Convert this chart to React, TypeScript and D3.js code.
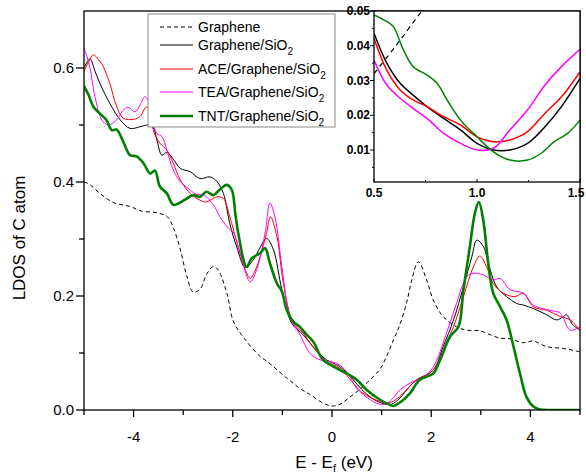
import React from "react";
import * as d3 from "d3";

type Pt = [number, number];

// LDOS of a C atom versus E - Ef (eV)
const graphene: Pt[] = [
  [-5, 0.4], [-4.89, 0.396], [-4.68, 0.38], [-4.41, 0.364], [-4.07, 0.357], [-3.84, 0.349],
  [-3.53, 0.346], [-3.32, 0.339], [-3.2, 0.32], [-3.06, 0.282], [-2.93, 0.236], [-2.8, 0.207],
  [-2.66, 0.212], [-2.53, 0.238], [-2.39, 0.252], [-2.29, 0.245], [-2.12, 0.205], [-1.99, 0.156],
  [-1.79, 0.128], [-1.45, 0.094], [-1.32, 0.086], [-0.91, 0.056], [-0.65, 0.038], [-0.44, 0.027],
  [-0.2, 0.013], [0, 0.007], [0.16, 0.01], [0.35, 0.022], [0.56, 0.036], [0.72, 0.049],
  [0.97, 0.072], [1.1, 0.094], [1.25, 0.125], [1.37, 0.15], [1.51, 0.19], [1.6, 0.225],
  [1.74, 0.26], [1.91, 0.228], [2.04, 0.193], [2.24, 0.164], [2.51, 0.146], [2.72, 0.14],
  [2.98, 0.139], [3.19, 0.132], [3.39, 0.126], [3.59, 0.125], [3.86, 0.118], [4.06, 0.121],
  [4.33, 0.111], [4.66, 0.108], [5, 0.102],
];

const grapheneSiO2: Pt[] = [
  [-5, 0.6], [-4.88, 0.616], [-4.78, 0.595], [-4.68, 0.573], [-4.48, 0.538], [-4.27, 0.509],
  [-4.07, 0.494], [-3.87, 0.497], [-3.7, 0.5], [-3.6, 0.495], [-3.53, 0.474], [-3.43, 0.447],
  [-3.33, 0.452], [-3.2, 0.44], [-3.06, 0.424], [-2.86, 0.418], [-2.66, 0.406], [-2.46, 0.409],
  [-2.32, 0.401], [-2.19, 0.38], [-2.06, 0.327], [-1.92, 0.286], [-1.75, 0.25], [-1.59, 0.263],
  [-1.45, 0.285], [-1.32, 0.301], [-1.18, 0.281], [-1.01, 0.211], [-0.81, 0.152], [-0.58, 0.132],
  [-0.38, 0.111], [-0.11, 0.088], [0.16, 0.076], [0.43, 0.053], [0.6, 0.036], [0.8, 0.021],
  [1.0, 0.012], [1.1, 0.01], [1.2, 0.01], [1.37, 0.021], [1.55, 0.04], [1.71, 0.053],
  [2.04, 0.07], [2.24, 0.111], [2.45, 0.158], [2.65, 0.216], [2.82, 0.269], [2.92, 0.298],
  [3.05, 0.287], [3.19, 0.246], [3.32, 0.216], [3.52, 0.199], [3.72, 0.187], [3.86, 0.184],
  [4.06, 0.178], [4.33, 0.167], [4.53, 0.158], [4.65, 0.163], [4.73, 0.167], [4.85, 0.15],
  [5, 0.14],
];

const aceGrapheneSiO2: Pt[] = [
  [-5, 0.594], [-4.9, 0.612], [-4.81, 0.623], [-4.71, 0.615], [-4.61, 0.602], [-4.48, 0.573],
  [-4.34, 0.532], [-4.21, 0.512], [-4.0, 0.51], [-3.87, 0.515], [-3.74, 0.532], [-3.68, 0.528],
  [-3.6, 0.49], [-3.47, 0.468], [-3.33, 0.456], [-3.2, 0.433], [-3.06, 0.404], [-2.86, 0.38],
  [-2.66, 0.368], [-2.53, 0.365], [-2.32, 0.374], [-2.19, 0.371], [-2.06, 0.339], [-1.92, 0.295],
  [-1.72, 0.24], [-1.65, 0.231], [-1.52, 0.251], [-1.32, 0.31], [-1.24, 0.339], [-1.11, 0.304],
  [-0.98, 0.222], [-0.78, 0.152], [-0.58, 0.135], [-0.44, 0.117], [-0.11, 0.085], [0.16, 0.073],
  [0.43, 0.047], [0.6, 0.031], [0.8, 0.021], [1.0, 0.014], [1.1, 0.012], [1.2, 0.014],
  [1.37, 0.024], [1.71, 0.053], [2.04, 0.07], [2.24, 0.105], [2.45, 0.146], [2.65, 0.199],
  [2.85, 0.251], [2.98, 0.27], [3.12, 0.251], [3.25, 0.222], [3.45, 0.205], [3.69, 0.199],
  [3.86, 0.205], [4.06, 0.181], [4.33, 0.175], [4.6, 0.164], [4.8, 0.158], [5, 0.14],
];

const teaGrapheneSiO2: Pt[] = [
  [-5, 0.634], [-4.94, 0.62], [-4.88, 0.6], [-4.78, 0.55], [-4.64, 0.509], [-4.51, 0.5],
  [-4.34, 0.509], [-4.21, 0.526], [-4.11, 0.531], [-3.97, 0.523], [-3.87, 0.535], [-3.77, 0.55],
  [-3.68, 0.535], [-3.6, 0.5], [-3.53, 0.485], [-3.43, 0.48], [-3.33, 0.456], [-3.2, 0.421],
  [-3.06, 0.401], [-2.86, 0.386], [-2.73, 0.378], [-2.6, 0.378], [-2.39, 0.36], [-2.26, 0.339],
  [-2.09, 0.319], [-1.99, 0.312], [-1.85, 0.275], [-1.65, 0.225], [-1.52, 0.246], [-1.35, 0.31],
  [-1.25, 0.363], [-1.15, 0.339], [-1.01, 0.251], [-0.85, 0.164], [-0.65, 0.133], [-0.44, 0.099],
  [-0.24, 0.088], [0.09, 0.082], [0.3, 0.067], [0.5, 0.038], [0.77, 0.018], [0.9, 0.012],
  [1.0, 0.01], [1.1, 0.011], [1.2, 0.018], [1.37, 0.035], [1.57, 0.047], [1.84, 0.058],
  [2.04, 0.075], [2.31, 0.135], [2.51, 0.187], [2.72, 0.234], [2.85, 0.24], [3.05, 0.237],
  [3.25, 0.228], [3.39, 0.231], [3.59, 0.211], [3.86, 0.205], [4.06, 0.184], [4.39, 0.175],
  [4.6, 0.17], [4.8, 0.14], [5, 0.146],
];

const tntGrapheneSiO2: Pt[] = [
  [-5, 0.568], [-4.91, 0.553], [-4.81, 0.532], [-4.68, 0.52], [-4.55, 0.509], [-4.44, 0.491],
  [-4.34, 0.492], [-4.21, 0.471], [-4.07, 0.447], [-3.94, 0.445], [-3.8, 0.433], [-3.67, 0.415],
  [-3.57, 0.42], [-3.47, 0.392], [-3.33, 0.38], [-3.2, 0.36], [-3.06, 0.364], [-2.93, 0.371],
  [-2.8, 0.377], [-2.66, 0.374], [-2.53, 0.383], [-2.39, 0.377], [-2.26, 0.387], [-2.12, 0.395],
  [-2.02, 0.386], [-1.95, 0.345], [-1.89, 0.31], [-1.72, 0.251], [-1.62, 0.266], [-1.45, 0.275],
  [-1.35, 0.284], [-1.25, 0.257], [-1.11, 0.222], [-1.01, 0.208], [-0.91, 0.175], [-0.78, 0.155],
  [-0.65, 0.146], [-0.51, 0.132], [-0.38, 0.12], [-0.18, 0.088], [0.03, 0.076], [0.3, 0.064],
  [0.5, 0.053], [0.7, 0.035], [0.97, 0.018], [1.17, 0.009], [1.24, 0.007], [1.4, 0.015],
  [1.57, 0.029], [1.77, 0.053], [2.04, 0.064], [2.18, 0.088], [2.38, 0.129], [2.55, 0.146],
  [2.65, 0.211], [2.78, 0.287], [2.88, 0.345], [2.96, 0.365], [3.05, 0.333], [3.15, 0.257],
  [3.25, 0.205], [3.39, 0.181], [3.52, 0.158], [3.66, 0.111], [3.79, 0.064], [3.92, 0.023],
  [4.06, 0.006], [4.19, 0.001], [4.4, 0], [5, 0],
];

// Close-up near the minimum, 0.5 to 1.5 eV
const insetGraphene: Pt[] = [[0.5, 0.032], [0.6, 0.0395], [0.72, 0.049], [0.75, 0.051]];
const insetGrapheneSiO2: Pt[] = [
  [0.5, 0.0436], [0.562, 0.035], [0.627, 0.0292], [0.69, 0.0258], [0.757, 0.0225], [0.838, 0.0191],
  [0.92, 0.0158], [1.0, 0.0119], [1.08, 0.01], [1.16, 0.01], [1.245, 0.0119], [1.33, 0.0167],
  [1.41, 0.0225], [1.5, 0.0306],
];
const insetAce: Pt[] = [
  [0.5, 0.0421], [0.562, 0.033], [0.627, 0.0273], [0.69, 0.0244], [0.757, 0.0225], [0.838, 0.0196],
  [0.92, 0.0172], [1.0, 0.0138], [1.08, 0.0124], [1.16, 0.0129], [1.245, 0.0153], [1.33, 0.0206],
  [1.41, 0.0253], [1.5, 0.0325],
];
const insetTea: Pt[] = [
  [0.5, 0.0359], [0.562, 0.0287], [0.627, 0.0249], [0.69, 0.022], [0.757, 0.0191], [0.838, 0.0148],
  [0.92, 0.0119], [1.0, 0.01], [1.08, 0.0105], [1.16, 0.0158], [1.245, 0.0215], [1.33, 0.0287],
  [1.41, 0.034], [1.5, 0.039],
];
const insetTnt: Pt[] = [
  [0.5, 0.0489], [0.562, 0.047], [0.594, 0.0455], [0.643, 0.0388], [0.69, 0.034], [0.757, 0.0316],
  [0.806, 0.0292], [0.855, 0.0244], [0.92, 0.0186], [1.0, 0.0138], [1.08, 0.0095], [1.16, 0.0071],
  [1.245, 0.0071], [1.31, 0.009], [1.375, 0.0124], [1.44, 0.0148], [1.5, 0.0186],
];

const xTicks = [-4, -2, 0, 2, 4];
const xMinorTicks = [-5, -3, -1, 1, 3, 5];
const yTicks = [0, 0.2, 0.4, 0.6];
const yMinorTicks = [0.1, 0.3, 0.5];
const insetXTicks = [0.5, 1.0, 1.5];
const insetXMinor = [0.75, 1.25];
const insetYTicks = [0.01, 0.02, 0.03, 0.04, 0.05];
const insetYMinor = [0.005, 0.015, 0.025, 0.035, 0.045];

const seriesNames = ["Graphene", "Graphene/SiO", "ACE/Graphene/SiO", "TEA/Graphene/SiO", "TNT/Graphene/SiO"];
const seriesSub = ["", "2", "2", "2", "2"];
const seriesColors = ["#000000", "#000000", "#ff0000", "#ff00ff", "#008000"];
const seriesWidths = [1, 1, 1, 1, 2.6];
const seriesDash = ["4,3", "", "", "", ""];
const mainData = [graphene, grapheneSiO2, aceGrapheneSiO2, teaGrapheneSiO2, tntGrapheneSiO2];
const insetData = [insetGraphene, insetGrapheneSiO2, insetAce, insetTea, insetTnt];

const FONT = "'Liberation Sans', Arial, sans-serif";

export default function App() {
  const W = 586, H = 475;
  const left = 84, right = 580, top = 11, bottom = 410;
  const x = d3.scaleLinear().domain([-5, 5]).range([left, right]);
  const y = d3.scaleLinear().domain([0, 0.7]).range([bottom, top]);

  const iL = 374, iR = 580, iT = 11, iB = 182;
  const xi = d3.scaleLinear().domain([0.5, 1.5]).range([iL, iR]);
  const yi = d3.scaleLinear().domain([0.0008, 0.05]).range([iB, iT]);

  const line = d3.line<Pt>().x(d => x(d[0])).y(d => y(d[1])).curve(d3.curveCatmullRom.alpha(0.5));
  const lineI = d3.line<Pt>().x(d => xi(d[0])).y(d => yi(d[1])).curve(d3.curveCatmullRom.alpha(0.5));

  const legendRows = [27, 45, 69, 92, 116];

  return (
    <svg width={W} height={H} style={{ position: "absolute", left: 0, top: 0, background: "#fff" }} fontFamily={FONT}>
      <defs>
        <clipPath id="mainClip"><rect x={left} y={top} width={right - left} height={bottom - top} /></clipPath>
        <clipPath id="insetClip"><rect x={iL} y={iT} width={iR - iL} height={iB - iT} /></clipPath>
      </defs>

      {/* main curves */}
      <g clipPath="url(#mainClip)">
        {mainData.map((d, i) => (
          <path key={i} d={line(d) || ""} fill="none" stroke={seriesColors[i]} strokeWidth={seriesWidths[i]}
            strokeDasharray={seriesDash[i] || undefined} strokeLinejoin="round" />
        ))}
      </g>

      {/* main frame */}
      <rect x={left} y={top} width={right - left} height={bottom - top} fill="none" stroke="#000" strokeWidth={1.3} />

      {/* x axis ticks */}
      {xTicks.map(t => (
        <g key={"xt" + t}>
          <line x1={x(t)} x2={x(t)} y1={bottom} y2={bottom + 7} stroke="#000" strokeWidth={1.3} />
          <text x={x(t)} y={442} textAnchor="middle" fontSize={15}>{t}</text>
        </g>
      ))}
      {xMinorTicks.map(t => (
        <line key={"xm" + t} x1={x(t)} x2={x(t)} y1={bottom} y2={bottom + 5} stroke="#000" strokeWidth={1.3} />
      ))}
      {/* y axis ticks */}
      {yTicks.map(t => (
        <g key={"yt" + t}>
          <line x1={left - 8} x2={left} y1={y(t)} y2={y(t)} stroke="#000" strokeWidth={1.3} />
          <text x={74} y={y(t) + 5} textAnchor="end" fontSize={15}>{t.toFixed(1)}</text>
        </g>
      ))}
      {yMinorTicks.map(t => (
        <line key={"ym" + t} x1={left - 5} x2={left} y1={y(t)} y2={y(t)} stroke="#000" strokeWidth={1.3} />
      ))}

      {/* axis titles */}
      <text x={334} y={468} textAnchor="middle" fontSize={17}>
        E - E<tspan fontSize={11} dy={4}>f</tspan><tspan dy={-4}> (eV)</tspan>
      </text>
      <text transform={`translate(25,238) rotate(-90)`} textAnchor="middle" fontSize={17}>LDOS of C atom</text>

      {/* legend */}
      <rect x={148} y={14} width={187} height={113} fill="#fff" stroke="#888" strokeWidth={1} />
      {seriesNames.map((n, i) => (
        <g key={"lg" + i}>
          <line x1={160} x2={193} y1={legendRows[i]} y2={legendRows[i]} stroke={seriesColors[i]}
            strokeWidth={seriesWidths[i] === 1 ? 1.2 : 2.6} strokeDasharray={seriesDash[i] || undefined} />
          <text x={198} y={legendRows[i] + 5} fontSize={14}>
            {n}
            {seriesSub[i] && <tspan fontSize={10} dy={5}>{seriesSub[i]}</tspan>}
          </text>
        </g>
      ))}

      {/* inset */}
      <rect x={iL} y={iT} width={iR - iL} height={iB - iT} fill="#fff" />
      <g clipPath="url(#insetClip)">
        {insetData.map((d, i) => (
          <path key={"in" + i} d={lineI(d) || ""} fill="none" stroke={seriesColors[i]}
            strokeWidth={i === 0 ? 1.2 : 1.5} strokeDasharray={i === 0 ? "5,4" : undefined} />
        ))}
      </g>
      <rect x={iL} y={iT} width={iR - iL} height={iB - iT} fill="none" stroke="#000" strokeWidth={1.3} />
      {insetXTicks.map(t => (
        <g key={"ixt" + t}>
          <line x1={xi(t)} x2={xi(t)} y1={iB} y2={iB - 3} stroke="#000" strokeWidth={1} />
          <text x={Math.min(xi(t), 576)} y={197} textAnchor="middle" fontSize={12} fontWeight="bold">{t.toFixed(1)}</text>
        </g>
      ))}
      {insetXMinor.map(t => (
        <line key={"ixm" + t} x1={xi(t)} x2={xi(t)} y1={iB} y2={iB - 2} stroke="#000" strokeWidth={1} />
      ))}
      {insetYTicks.map(t => (
        <g key={"iyt" + t}>
          <line x1={iL - 4} x2={iL} y1={yi(t)} y2={yi(t)} stroke="#000" strokeWidth={1} />
          <text x={370} y={yi(t) + 4} textAnchor="end" fontSize={12} fontWeight="bold">{t.toFixed(2)}</text>
        </g>
      ))}
      {insetYMinor.map(t => (
        <line key={"iym" + t} x1={iL - 2} x2={iL} y1={yi(t)} y2={yi(t)} stroke="#000" strokeWidth={1} />
      ))}
    </svg>
  );
}
